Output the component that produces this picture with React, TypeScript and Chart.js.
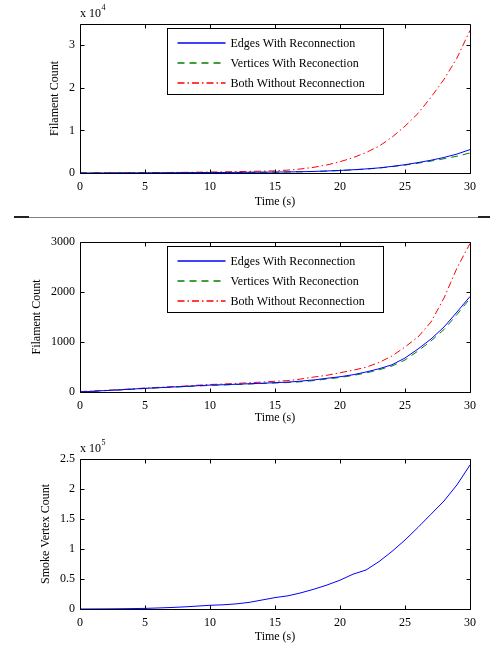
import React, { useEffect, useRef } from "react";
import { Chart, registerables } from "chart.js";

Chart.register(...registerables);

const FONT = "'Liberation Serif', 'Times New Roman', serif";

// ---------- data ----------
const TIME = [0, 1, 2, 3, 4, 5, 6, 7, 8, 9, 10, 11, 12, 13, 14, 15, 16, 17, 18, 19, 20, 21, 22, 23, 24, 25, 26, 27, 28, 29, 30];
const X_TICKS = [0, 5, 10, 15, 20, 25, 30];

const SERIES_LABELS = ["Edges With Reconnection", "Vertices With Reconection", "Both Without Reconnection"];

// Top chart (filament count, x 10^4)
const Y_TICKS_1 = [0, 10000, 20000, 30000];
const EDGES_1 = [0, 5, 10, 20, 30, 40, 50, 60, 75, 90, 105, 120, 140, 160, 185, 215, 255, 300, 370, 470, 600, 760, 960, 1200, 1550, 1950, 2450, 3000, 3650, 4450, 5500];
const VERTICES_1 = [0, 5, 10, 18, 28, 38, 48, 58, 72, 86, 100, 115, 133, 152, 176, 205, 243, 288, 355, 450, 575, 730, 920, 1150, 1500, 1850, 2300, 2800, 3350, 3950, 4700];
const BOTH_1 = [0, 10, 25, 40, 55, 75, 95, 120, 150, 185, 225, 270, 320, 380, 440, 500, 680, 950, 1350, 1900, 2650, 3600, 4800, 6300, 8400, 11000, 14000, 17800, 22000, 27000, 33500];

// Middle chart (filament count)
const Y_TICKS_2 = [0, 1000, 2000, 3000];
const EDGES_2 = [0, 15, 30, 42, 58, 73, 85, 98, 110, 125, 138, 145, 155, 165, 175, 187, 198, 218, 242, 275, 305, 345, 400, 465, 545, 680, 860, 1060, 1300, 1600, 1910];
const VERTICES_2 = [0, 12, 28, 40, 55, 70, 85, 95, 108, 120, 132, 140, 150, 160, 170, 180, 190, 205, 228, 260, 290, 330, 380, 445, 520, 640, 820, 1020, 1250, 1550, 1870];
const BOTH_2 = [10, 20, 32, 48, 62, 80, 92, 105, 118, 135, 150, 160, 172, 185, 198, 215, 228, 260, 300, 335, 385, 435, 495, 590, 720, 900, 1100, 1400, 1880, 2480, 2970];

// Bottom chart (smoke vertex count, x 10^5)
const Y_TICKS_3 = [0, 50000, 100000, 150000, 200000, 250000];
const SMOKE_3 = [0, 100, 200, 400, 700, 1000, 1700, 2500, 3500, 4800, 6200, 7000, 8500, 11000, 15000, 19000, 22000, 27000, 33000, 40000, 48000, 58000, 65000, 79000, 96000, 115000, 136000, 158000, 180000, 207000, 240000];

const COLORS = ["#0000ff", "#008000", "#ff0000"];
const DASHES: number[][] = [[], [7, 5], [7, 3, 1.5, 3]];

type Series = { label: string; values: number[]; color: string; dash: number[] };

// ---------- plugin factory ----------
function makeFramePlugin(exponent: string | undefined, legendItems: Series[] | null) {
  return {
    id: "frame",
    afterDraw(chart: any) {
      const { ctx, chartArea: a, scales } = chart;
      ctx.save();
      ctx.strokeStyle = "#000";
      ctx.lineWidth = 1;
      ctx.setLineDash([]);
      const L = Math.round(a.left) + 0.5;
      const T = Math.round(a.top) + 0.5;
      const R = Math.round(a.right) + 0.5;
      const B = Math.round(a.bottom) + 0.5;
      ctx.beginPath();
      ctx.rect(L, T, R - L, B - T);
      const xs = scales.x;
      const ys = scales.y;
      xs.ticks.forEach((t: any) => {
        const p = Math.round(xs.getPixelForValue(t.value)) + 0.5;
        ctx.moveTo(p, B);
        ctx.lineTo(p, B - 4);
        ctx.moveTo(p, T);
        ctx.lineTo(p, T + 4);
      });
      ys.ticks.forEach((t: any) => {
        const p = Math.round(ys.getPixelForValue(t.value)) + 0.5;
        ctx.moveTo(L, p);
        ctx.lineTo(L + 4, p);
        ctx.moveTo(R, p);
        ctx.lineTo(R - 4, p);
      });
      ctx.stroke();

      if (exponent) {
        ctx.fillStyle = "#000";
        ctx.textBaseline = "alphabetic";
        ctx.textAlign = "left";
        ctx.font = `12px ${FONT}`;
        ctx.fillText("x 10", a.left, a.top - 7);
        const w = ctx.measureText("x 10").width;
        ctx.font = `8px ${FONT}`;
        ctx.fillText(exponent, a.left + w + 0.5, a.top - 14);
      }

      if (legendItems) {
        const bx = Math.round(a.left + 87) + 0.5;
        const by = Math.round(a.top + 4) + 0.5;
        const bw = 216;
        const bh = 66;
        ctx.fillStyle = "#fff";
        ctx.fillRect(bx, by, bw, bh);
        ctx.strokeStyle = "#000";
        ctx.lineWidth = 1;
        ctx.strokeRect(bx, by, bw, bh);
        legendItems.forEach((it, i) => {
          const y = Math.round(by + 14 + 20 * i);
          ctx.save();
          ctx.strokeStyle = it.color;
          ctx.lineWidth = 1.3;
          ctx.setLineDash(it.dash);
          ctx.beginPath();
          ctx.moveTo(bx + 10, y);
          ctx.lineTo(bx + 58, y);
          ctx.stroke();
          ctx.restore();
          ctx.fillStyle = "#000";
          ctx.font = `12px ${FONT}`;
          ctx.textBaseline = "middle";
          ctx.textAlign = "left";
          ctx.fillText(it.label, bx + 63, y + 0.5);
        });
      }
      ctx.restore();
    },
  };
}

type Panel = {
  top: number;
  height: number;
  series: Series[];
  yMax: number;
  yTicks: number[];
  yDiv: number;
  yTitle: string;
  exponent?: string;
  legend?: boolean;
  pad: { left: number; top: number; right: number; bottom: number };
  xAxisH: number;
  yAxisW: number;
};

function ChartPanel(p: Panel) {
  const ref = useRef<HTMLCanvasElement | null>(null);
  useEffect(() => {
    if (!ref.current) return;
    const tickFont = { family: FONT, size: 12 };
    const titleFont = { family: FONT, size: 12, lineHeight: 1 };
    const chart = new Chart(ref.current, {
      type: "line",
      data: {
        datasets: p.series.map((s) => ({
          label: s.label,
          data: TIME.map((t, i) => ({ x: t, y: s.values[i] })),
          borderColor: s.color,
          backgroundColor: s.color,
          borderDash: s.dash,
          borderWidth: 1,
          pointRadius: 0,
          tension: 0,
          fill: false,
        })),
      },
      options: {
        animation: false,
        responsive: false,
        events: [],
        layout: { padding: p.pad },
        plugins: {
          legend: { display: false },
          tooltip: { enabled: false },
        },
        scales: {
          x: {
            type: "linear",
            min: 0,
            max: 30,
            afterBuildTicks: (s: any) => {
              s.ticks = X_TICKS.map((v) => ({ value: v }));
            },
            afterFit: (s: any) => {
              s.height = p.xAxisH;
            },
            grid: { display: false, drawTicks: false },
            border: { display: false },
            ticks: {
              padding: 7,
              color: "#000",
              font: tickFont,
              maxRotation: 0,
              autoSkip: false,
            },
            title: { display: true, text: "Time (s)", color: "#000", font: titleFont, padding: 0 },
          },
          y: {
            type: "linear",
            min: 0,
            max: p.yMax,
            afterBuildTicks: (s: any) => {
              s.ticks = p.yTicks.map((v) => ({ value: v }));
            },
            afterFit: (s: any) => {
              s.width = p.yAxisW;
            },
            grid: { display: false, drawTicks: false },
            border: { display: false },
            ticks: {
              padding: 5,
              color: "#000",
              font: tickFont,
              autoSkip: false,
              callback: (v: any) => String(Math.round((Number(v) / p.yDiv) * 1000) / 1000),
            },
            title: { display: true, text: p.yTitle, color: "#000", font: titleFont, padding: 0 },
          },
        },
      },
      plugins: [makeFramePlugin(p.exponent, p.legend ? p.series : null)],
    } as any);
    return () => chart.destroy();
  }, []);
  return (
    <canvas
      ref={ref}
      width={490}
      height={p.height}
      style={{ position: "absolute", left: 0, top: p.top, width: 490, height: p.height, display: "block" }}
    />
  );
}

const mk = (labels: string[], arrays: number[][]): Series[] =>
  arrays.map((values, i) => ({ label: labels[i], values, color: COLORS[i], dash: DASHES[i] }));

export default function App() {
  return (
    <div style={{ position: "absolute", left: 0, top: 0, width: 490, height: 650, background: "#fff", overflow: "hidden" }}>
      <ChartPanel
        top={0}
        height={216}
        series={mk(SERIES_LABELS, [EDGES_1, VERTICES_1, BOTH_1])}
        yMax={35000}
        yTicks={Y_TICKS_1}
        yDiv={10000}
        yTitle="Filament Count"
        exponent="4"
        legend
        pad={{ left: 49, top: 24, right: 20, bottom: 8 }}
        xAxisH={35}
        yAxisW={31}
      />
      <div style={{ position: "absolute", left: 14, top: 217, width: 476, height: 1, background: "#808080" }} />
      <div style={{ position: "absolute", left: 14, top: 216, width: 15, height: 2, background: "#222" }} />
      <div style={{ position: "absolute", left: 478, top: 216, width: 12, height: 2, background: "#222" }} />
      <ChartPanel
        top={220}
        height={210}
        series={mk(SERIES_LABELS, [EDGES_2, VERTICES_2, BOTH_2])}
        yMax={3000}
        yTicks={Y_TICKS_2}
        yDiv={1}
        yTitle="Filament Count"
        legend
        pad={{ left: 31, top: 22, right: 20, bottom: 6 }}
        xAxisH={32}
        yAxisW={49}
      />
      <ChartPanel
        top={430}
        height={220}
        series={[{ label: "Smoke Vertex Count", values: SMOKE_3, color: "#0000ff", dash: [] }]}
        yMax={250000}
        yTicks={Y_TICKS_3}
        yDiv={100000}
        yTitle="Smoke Vertex Count"
        exponent="5"
        pad={{ left: 40, top: 29, right: 20, bottom: 7 }}
        xAxisH={34}
        yAxisW={40}
      />
    </div>
  );
}
